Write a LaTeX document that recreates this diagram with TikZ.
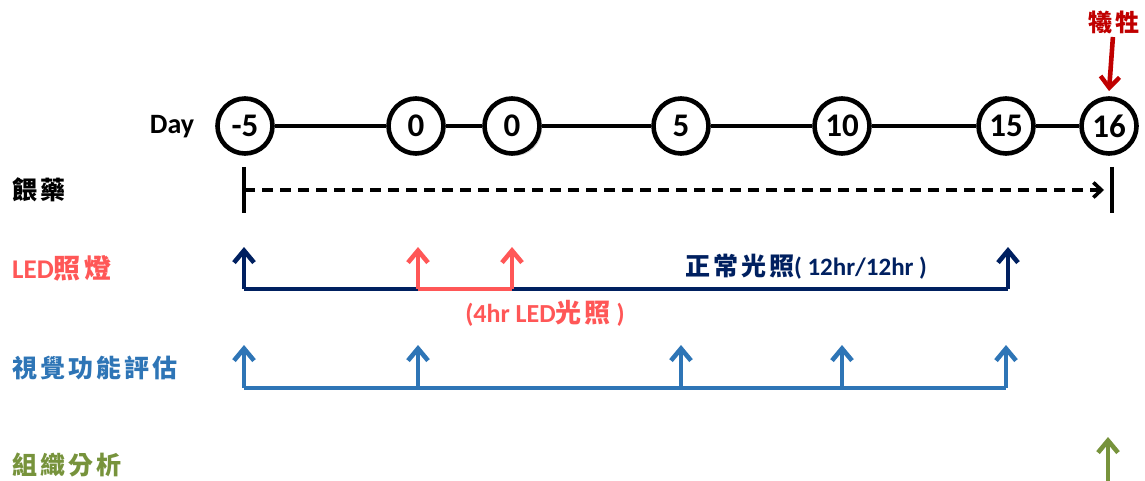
\documentclass[tikz,border=0pt]{standalone}
\usepackage{fontspec}
\setmainfont{Carlito}
\newfontfamily\cjk[LetterSpace=12]{Noto Sans CJK TC}
\usetikzlibrary{arrows.meta,shadows}
\definecolor{navy}{HTML}{002060}
\definecolor{ledred}{HTML}{FF5757}
\definecolor{vblue}{HTML}{2E75B6}
\definecolor{olive}{HTML}{77933C}
\definecolor{darkred}{HTML}{C00000}
\tikzset{
  x=1pt,y=-1pt,
  daynode/.style={circle,draw=black,line width=4.6pt,fill=white,minimum size=55pt,inner sep=0pt,font=\fontsize{33}{34}\selectfont\bfseries},
  tl/.style={line width=4.6pt,black},
  shd/.style={drop shadow={shadow xshift=2.5pt,shadow yshift=-2.5pt,opacity=0.3,fill=gray}},
  up/.style={line width=4.8pt,-{Straight Barb[length=12pt,width=20pt,line width=4.6pt]}},
  rowlabel/.style={anchor=west,inner sep=0pt},
  cjkl/.style={font=\fontsize{25}{27}\selectfont\cjk\bfseries},
}
\begin{document}
\begin{tikzpicture}
\useasboundingbox (0,0) rectangle (1145,481);
% timeline
\node[font=\fontsize{28}{30}\selectfont\bfseries] (day) at (172,127) {Day};
\node[daynode] (dm5) at (245,126) {-5};
\node[daynode] (d0a) at (416,126) {0};
\node[daynode,shd] (d0b) at (512,126) {0};
\node[daynode] (d5) at (681,126) {5};
\node[daynode] (d10) at (842,126) {10};
\node[daynode] (d15) at (1006,126) {15};
\node[daynode] (d16) at (1109,126) {16};
\draw[tl] (dm5) -- (d0a);
\draw[tl] (d0a) -- (d0b);
\draw[tl] (d0b) -- (d5);
\draw[tl] (d5) -- (d10);
\draw[tl] (d10) -- (d15);
\draw[tl] (d15) -- (d16);
% sacrifice
\node[text=darkred,font=\fontsize{24}{26}\selectfont\cjk\bfseries] (sac) at (1114,22) {犧牲};
\coordinate (sacend) at (1109,91);
\draw[line width=4.6pt,darkred,-{Straight Barb[length=11pt,width=19pt,line width=4.4pt]}] (sac) -- (sacend);
% row 1 feeding
\node[rowlabel,cjkl] (feed) at (12,190) {餵藥};
\coordinate (f1t) at (244,167); \coordinate (f1b) at (244,213);
\coordinate (f2t) at (1112,167); \coordinate (f2b) at (1112,213);
\coordinate (fs) at (244,190); \coordinate (fe) at (1104,190);
\draw[line width=4pt] (f1t) -- (f1b);
\draw[line width=4pt] (f2t) -- (f2b);
\draw[line width=4pt,dash pattern=on 11pt off 7pt,-{Straight Barb[length=8pt,width=15pt,line width=3.6pt]}] (fs) -- (fe);
% row 2 LED
\node[rowlabel,text=ledred,font=\fontsize{27}{28}\selectfont\bfseries] (led) at (12,268) {LED{\cjk 照燈}};
\coordinate (n1) at (244,289); \coordinate (n1t) at (244,247);
\coordinate (r1) at (418,289); \coordinate (r1t) at (418,247);
\coordinate (r2) at (512,289); \coordinate (r2t) at (512,247);
\coordinate (n2) at (1008,289); \coordinate (n2t) at (1008,247);
\draw[navy,line width=4.8pt] (n1) -- (n2);
\draw[navy,up] (n1) -- (n1t);
\draw[navy,up] (n2) -- (n2t);
\draw[ledred,line width=4.8pt] (r1) -- (r2);
\draw[ledred,up] (r1) -- (r1t);
\draw[ledred,up] (r2) -- (r2t);
\node[text=navy,font=\fontsize{25}{27}\selectfont\bfseries] (normal) at (806,267) {{\cjk 正常光照}( 12hr/12hr )};
\node[text=ledred,font=\fontsize{26}{28}\selectfont\bfseries] (fourhr) at (545,313) {(4hr LED{\cjk 光照} )};
% row 3 visual
\node[rowlabel,cjkl,text=vblue] (vis) at (12,368) {視覺功能評估};
\coordinate (v1) at (244,388); \coordinate (v1t) at (244,345);
\coordinate (v2) at (418,388); \coordinate (v2t) at (418,345);
\coordinate (v3) at (681,388); \coordinate (v3t) at (681,345);
\coordinate (v4) at (842,388); \coordinate (v4t) at (842,345);
\coordinate (v5) at (1006,388); \coordinate (v5t) at (1006,345);
\draw[vblue,line width=4.8pt] (v1) -- (v5);
\foreach \a in {v1,v2,v3,v4,v5}{\draw[vblue,up] (\a) -- (\a t);}
% row 4 histology
\node[rowlabel,cjkl,text=olive] (hist) at (12,465) {組織分析};
\coordinate (h1) at (1108,481); \coordinate (h1t) at (1108,437);
\draw[olive,up] (h1) -- (h1t);
\end{tikzpicture}
\end{document}
